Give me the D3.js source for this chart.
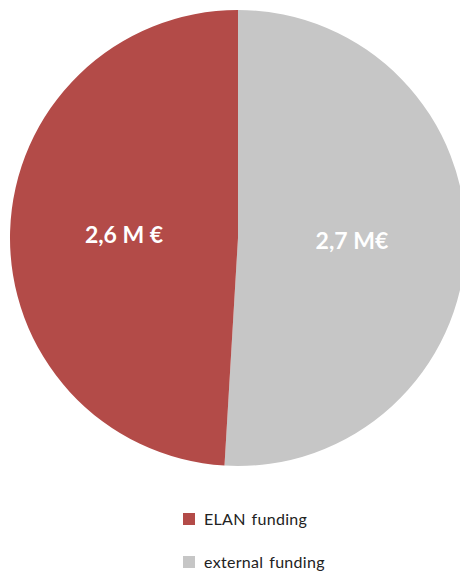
<!DOCTYPE html>
<html>
<head>
<meta charset="utf-8">
<script src="https://cdn.jsdelivr.net/npm/d3@7"></script>
<style>
  body { margin: 0; background: #fff; }
</style>
</head>
<body>
<svg width="460" height="576"></svg>
<script>
// data
var categories = ["external funding", "ELAN funding"];
var values = [2.7, 2.6];
var valueLabels = ["2,7 M€", "2,6 M €"];
var legendOrder = ["ELAN funding", "external funding"];
var colors = { "ELAN funding": "#b34b48", "external funding": "#c6c6c6" };

var svg = d3.select("svg"),
    width = +svg.attr("width"),
    height = +svg.attr("height");

var cx = 238, cy = 238, radius = 228;

var pie = d3.pie().sort(null).value(function (d) { return d.value; });
var arc = d3.arc().innerRadius(0).outerRadius(radius);

var slices = pie(categories.map(function (c, i) {
    return { name: c, value: values[i], label: valueLabels[i] };
}));

var g = svg.append("g")
    .attr("transform", "translate(" + cx + "," + cy + ")");

g.selectAll("path")
    .data(slices)
    .enter().append("path")
    .attr("d", arc)
    .attr("fill", function (d) { return colors[d.data.name]; });

g.selectAll("text")
    .data(slices)
    .enter().append("text")
    .attr("transform", function (d) { return "translate(" + arc.centroid(d) + ")"; })
    .attr("text-anchor", "middle")
    .attr("dy", "0.35em")
    .attr("font-family", "Lato, 'Open Sans', sans-serif")
    .attr("font-weight", "bold")
    .attr("font-size", "23px")
    .attr("fill", "#fff")
    .text(function (d) { return d.data.label; });

// legend
var legendY = d3.scalePoint().domain(legendOrder).range([519, 562]);

var legend = svg.append("g")
    .attr("class", "legend")
    .selectAll("g")
    .data(legendOrder)
    .enter().append("g")
    .attr("transform", function (d) { return "translate(183," + legendY(d) + ")"; });

legend.append("rect")
    .attr("x", 0)
    .attr("y", -6)
    .attr("width", 12)
    .attr("height", 12)
    .attr("fill", function (d) { return colors[d]; });

legend.append("text")
    .attr("x", 21)
    .attr("y", 0)
    .attr("dy", "0.35em")
    .attr("font-family", "Lato, sans-serif")
    .attr("font-size", "16px")
    .attr("letter-spacing", "0.3px")
    .attr("word-spacing", "1.5px")
    .attr("fill", "#222")
    .text(function (d) { return d; });
</script>
</body>
</html>
